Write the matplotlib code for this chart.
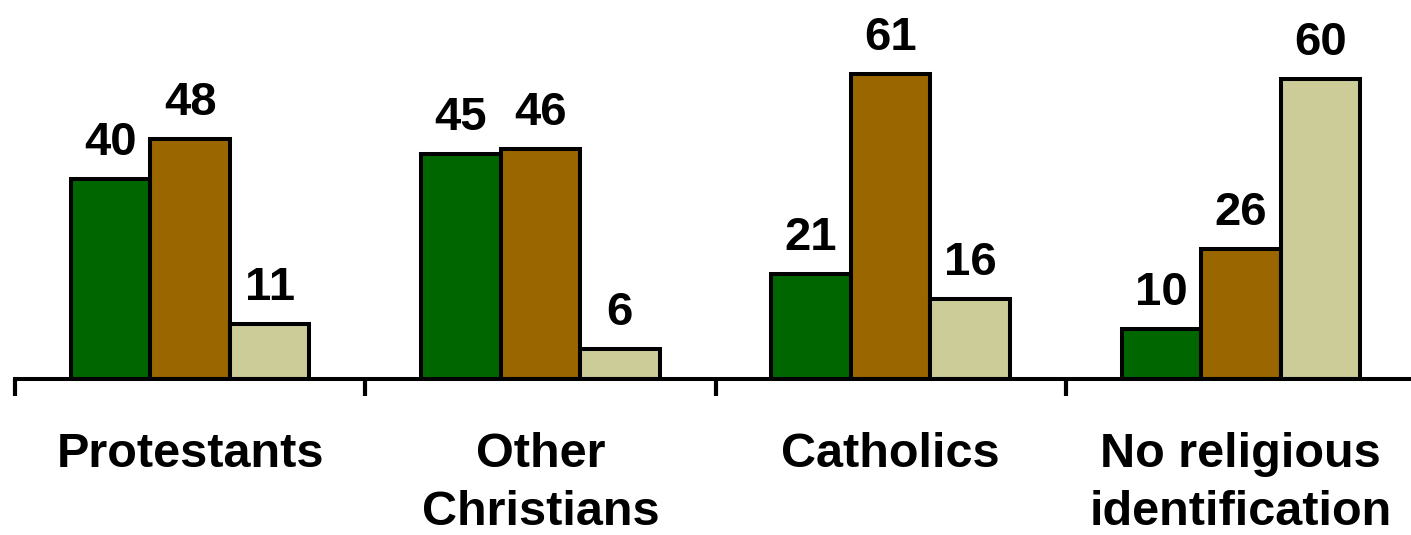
import matplotlib
matplotlib.use('Agg')
import matplotlib.pyplot as plt
import matplotlib.transforms as mtransforms
import numpy as np

# Data
categories = ['Protestants', 'Other\nChristians', 'Catholics', 'No religious\nidentification']
series_a = [40, 45, 21, 10]
series_b = [48, 46, 61, 26]
series_c = [11, 6, 16, 60]
colors = ['#006600', '#996600', '#CCCC99']

plt.rcParams['font.family'] = ['Liberation Sans', 'DejaVu Sans']

fig = plt.figure(figsize=(14.11, 5.35), dpi=100)
ax = fig.add_axes([15 / 1411, 156 / 535, 1401 / 1411, 379 / 535])

x = np.arange(len(categories))
width = 0.227
for i, (vals, col) in enumerate(zip([series_a, series_b, series_c], colors)):
    pos = x + (i - 1) * width
    ax.bar(pos, vals, width, color=col, edgecolor='black', linewidth=2.9, zorder=2)
    for p, v in zip(pos, vals):
        ax.annotate(str(v), (p, v), xytext=(0, 17), textcoords='offset points',
                    ha='center', va='baseline', fontsize=34, fontweight='bold')

ax.set_xlim(-0.5, 3.5)
ax.set_ylim(0, 75.8)
for s in ['left', 'right', 'top']:
    ax.spines[s].set_visible(False)
ax.spines['bottom'].set_linewidth(2.9)
ax.set_yticks([])
ax.set_xticks(np.arange(-0.5, 4.0, 1.0))
ax.set_xticklabels([])
ax.tick_params(axis='x', direction='out', length=12, width=3)

trans = mtransforms.blended_transform_factory(ax.transData, ax.transAxes)
for xi, lab in zip(x, categories):
    ax.text(xi, -0.14, lab, transform=trans, ha='center', va='top',
            fontsize=35, fontweight='bold', linespacing=1.36)

fig.savefig('out.png', dpi=100)
